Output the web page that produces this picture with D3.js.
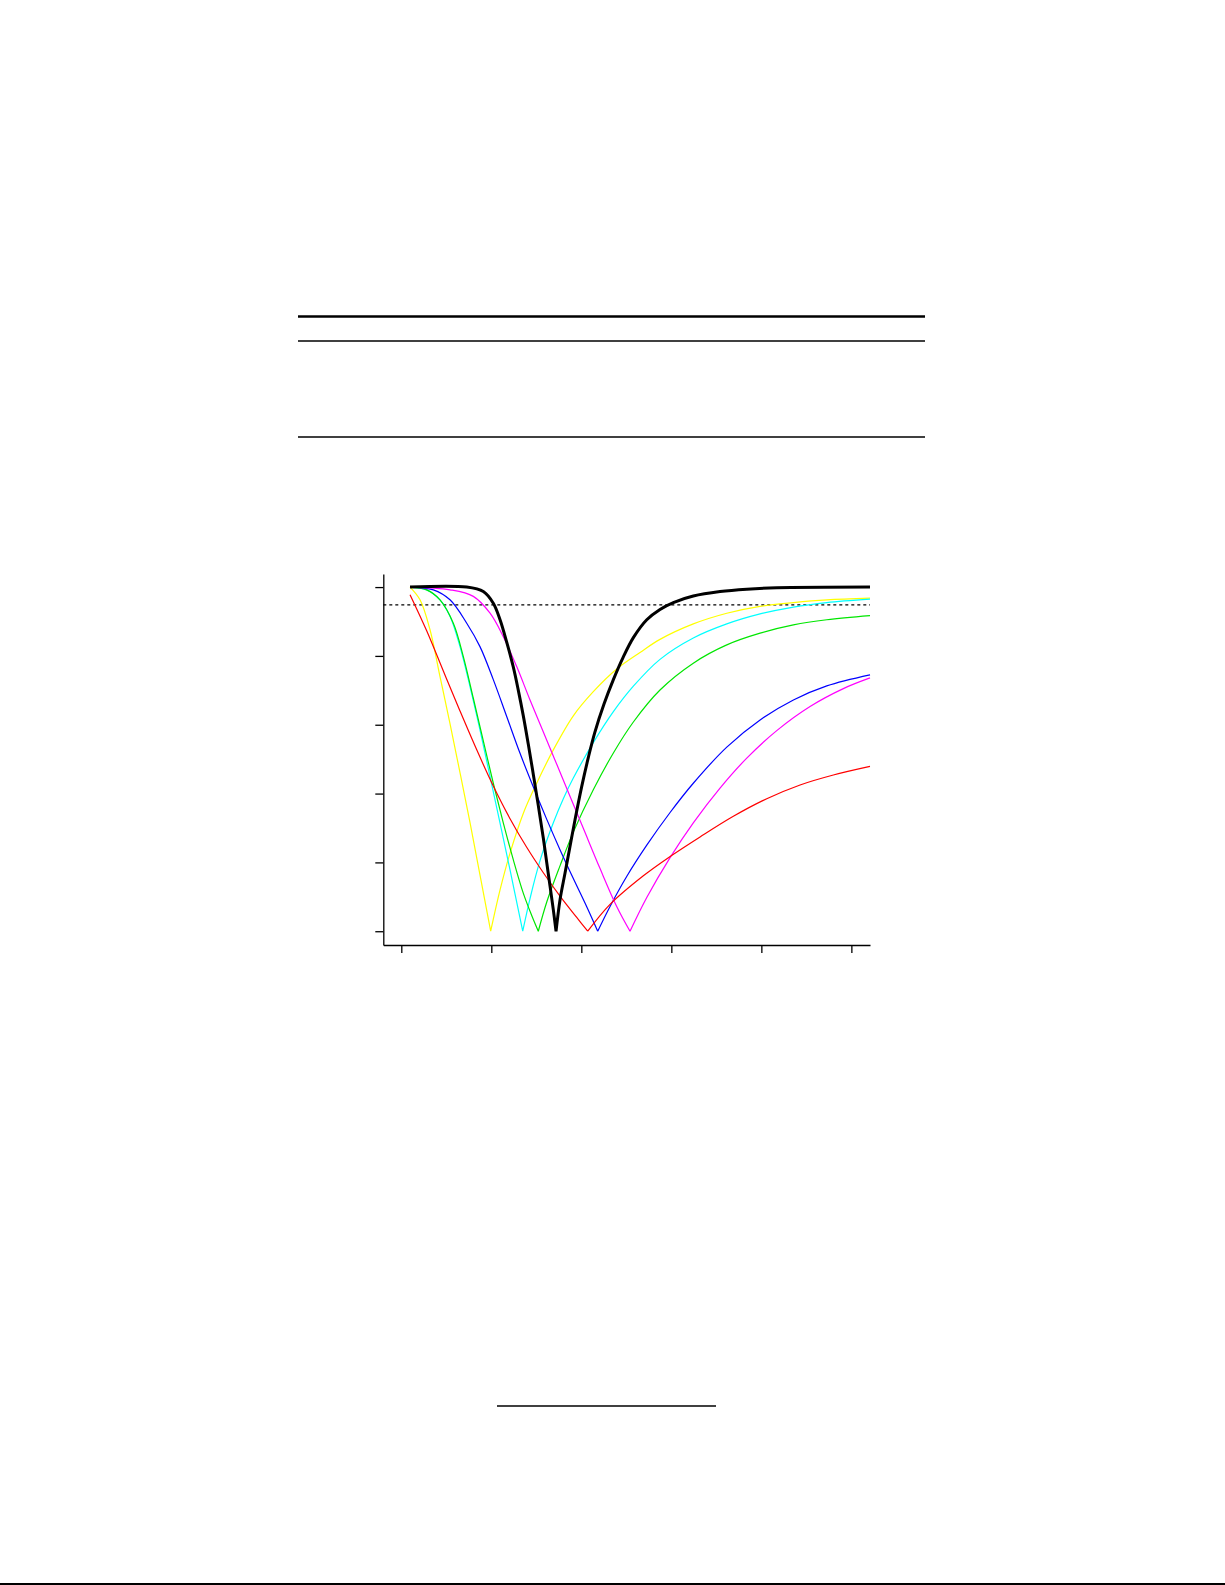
<!DOCTYPE html>
<html>
<head>
<meta charset="utf-8">
<script src="https://cdn.jsdelivr.net/npm/d3@7"></script>
<style>
  body { margin: 0; background: #fff; }
  svg { display: block; }
</style>
</head>
<body>
<div id="page"></div>
<script>
const W = 1225;
const H = 1585;

// tick positions (labels are not printed in the figure)
const xTicks = [0, 1, 2, 3, 4, 5];
const yTicks = [0, 0.2, 0.4, 0.6, 0.8, 1.0];
const threshold = 0.948;

// thick black curve (measured)
const measured = [
  [0.097, 1.0], [0.727, 1.0], [0.911, 0.987], [1.022, 0.953], [1.097, 0.905],
  [1.171, 0.840], [1.244, 0.768], [1.300, 0.700], [1.356, 0.625], [1.411, 0.543],
  [1.467, 0.455], [1.522, 0.365], [1.578, 0.270], [1.633, 0.167], [1.689, 0.062],
  [1.719, 0.0], [1.763, 0.091], [1.819, 0.169], [1.874, 0.246], [1.930, 0.324],
  [2.004, 0.420], [2.078, 0.505], [2.150, 0.578], [2.252, 0.660], [2.356, 0.731],
  [2.463, 0.795], [2.578, 0.853], [2.727, 0.905], [2.874, 0.935], [3.022, 0.955],
  [3.244, 0.974], [3.541, 0.987], [3.838, 0.994], [4.171, 0.998], [5.207, 1.0]
];

const yellow = [
  [0.097, 1.0], [0.208, 0.963], [0.319, 0.876], [0.430, 0.740], [0.541, 0.603],
  [0.652, 0.461], [0.763, 0.316], [0.874, 0.164], [0.993, 0.0],
  [1.097, 0.120], [1.208, 0.227], [1.356, 0.343], [1.504, 0.430], [1.689, 0.527],
  [1.911, 0.626], [2.133, 0.696], [2.393, 0.762], [2.652, 0.810], [2.874, 0.848],
  [3.244, 0.893], [3.616, 0.924], [3.986, 0.944], [4.356, 0.955], [4.727, 0.963],
  [5.207, 0.968]
];

const cyan = [
  [0.097, 1.0], [0.282, 0.992], [0.430, 0.963], [0.541, 0.915], [0.652, 0.827],
  [0.763, 0.711], [0.874, 0.585], [0.986, 0.449], [1.097, 0.314], [1.208, 0.178],
  [1.349, 0.0],
  [1.430, 0.095], [1.541, 0.205], [1.689, 0.315], [1.800, 0.385], [1.911, 0.445],
  [2.133, 0.548], [2.356, 0.638], [2.578, 0.712], [2.874, 0.790], [3.244, 0.852],
  [3.616, 0.893], [3.986, 0.922], [4.356, 0.942], [4.727, 0.955], [5.207, 0.965]
];

const green = [
  [0.097, 1.0], [0.282, 0.992], [0.430, 0.963], [0.578, 0.895], [0.689, 0.798],
  [0.800, 0.677], [0.911, 0.553], [1.022, 0.430], [1.133, 0.315], [1.244, 0.208],
  [1.356, 0.110], [1.450, 0.045], [1.522, 0.0],
  [1.616, 0.085], [1.763, 0.190], [1.911, 0.288], [2.133, 0.411], [2.356, 0.518],
  [2.578, 0.608], [2.874, 0.701], [3.244, 0.779], [3.616, 0.832], [3.986, 0.866],
  [4.356, 0.890], [4.727, 0.905], [5.207, 0.917]
];

const blue = [
  [0.097, 1.0], [0.356, 0.992], [0.541, 0.963], [0.727, 0.895], [0.874, 0.827],
  [1.022, 0.731], [1.171, 0.624], [1.319, 0.517], [1.467, 0.419], [1.616, 0.325],
  [1.763, 0.237], [1.911, 0.153], [2.060, 0.071], [2.182, 0.0],
  [2.319, 0.072], [2.504, 0.159], [2.727, 0.250], [2.986, 0.345], [3.244, 0.430],
  [3.616, 0.535], [3.986, 0.614], [4.356, 0.672], [4.727, 0.713], [5.207, 0.745]
];

const magenta = [
  [0.097, 1.0], [0.541, 0.992], [0.800, 0.973], [0.986, 0.924], [1.133, 0.856],
  [1.282, 0.769], [1.430, 0.672], [1.578, 0.579], [1.727, 0.485], [1.874, 0.392],
  [2.022, 0.299], [2.208, 0.182], [2.393, 0.072], [2.541, 0.0],
  [2.727, 0.098], [2.986, 0.214], [3.244, 0.315], [3.541, 0.416], [3.838, 0.503],
  [4.171, 0.583], [4.541, 0.653], [4.911, 0.705], [5.207, 0.736]
];

const red = [
  [0.097, 0.978], [0.282, 0.873], [0.467, 0.756], [0.652, 0.640], [0.838, 0.527],
  [1.022, 0.422], [1.208, 0.327], [1.393, 0.244], [1.578, 0.170], [1.763, 0.102],
  [1.949, 0.040], [2.071, 0.0],
  [2.319, 0.078], [2.689, 0.161], [2.986, 0.217], [3.319, 0.274], [3.689, 0.334],
  [4.060, 0.385], [4.430, 0.425], [4.800, 0.454], [5.207, 0.479]
];

const thinSeries = [
  { pts: yellow, color: "#ffff00" },
  { pts: cyan, color: "#00ffff" },
  { pts: green, color: "#00e600" },
  { pts: blue, color: "#0000ff" },
  { pts: magenta, color: "#ff00ff" },
  { pts: red, color: "#ff0000" }
];

let svg = d3
  .select("#page")
  .append("svg")
  .attr("width", W)
  .attr("height", H);

svg.append("rect").attr("width", W).attr("height", H).attr("fill", "#fff");

// table rules above the figure
let rule = (x1, x2, y, sw) =>
  svg
    .append("line")
    .attr("x1", x1)
    .attr("x2", x2)
    .attr("y1", y)
    .attr("y2", y)
    .attr("stroke", "#000")
    .attr("stroke-width", sw);

rule(298, 925, 316.5, 2.4);
rule(298, 925, 341, 1.4);
rule(298, 925, 437, 1.4);

// footnote rule and page edge
rule(497, 716, 1406, 1.4);
rule(0, W, 1584, 2);

// chart
let x = d3.scaleLinear().domain([-0.2, 5.207]).range([383.3, 870]);
let y = d3.scaleLinear().domain([-0.04, 1.038]).range([945, 574]);

let xAxis = d3.axisBottom(x).tickValues(xTicks).tickSize(8).tickSizeOuter(0).tickFormat("");
let yAxis = d3.axisLeft(y).tickValues(yTicks).tickSize(8).tickSizeOuter(0).tickFormat("");

let gx = svg.append("g").attr("transform", `translate(0,945)`).call(xAxis);
let gy = svg.append("g").attr("transform", `translate(383.3,0)`).call(yAxis);
[gx, gy].forEach(g => {
  g.selectAll("path, line").attr("stroke", "#000").attr("stroke-width", 1.3);
});

// threshold (dotted)
svg
  .append("line")
  .attr("x1", x(-0.2))
  .attr("x2", x(5.207))
  .attr("y1", y(threshold))
  .attr("y2", y(threshold))
  .attr("stroke", "#000")
  .attr("stroke-width", 1.2)
  .attr("stroke-dasharray", "3,3");

let smooth = d3
  .line()
  .x(d => x(d[0]))
  .y(d => y(d[1]))
  .curve(d3.curveCatmullRom.alpha(0.5));

// split at the minimum so the V keeps its sharp tip
let vPath = pts => {
  let iMin = d3.minIndex(pts, d => d[1]);
  return smooth(pts.slice(0, iMin + 1)) + smooth(pts.slice(iMin));
};

svg
  .selectAll("path.thin")
  .data(thinSeries)
  .enter()
  .append("path")
  .attr("class", "thin")
  .attr("fill", "none")
  .attr("stroke", d => d.color)
  .attr("stroke-width", 1.2)
  .attr("d", d => vPath(d.pts));

svg
  .append("path")
  .attr("fill", "none")
  .attr("stroke", "#000")
  .attr("stroke-width", 3)
  .attr("stroke-linejoin", "round")
  .attr("d", vPath(measured));
</script>
</body>
</html>
